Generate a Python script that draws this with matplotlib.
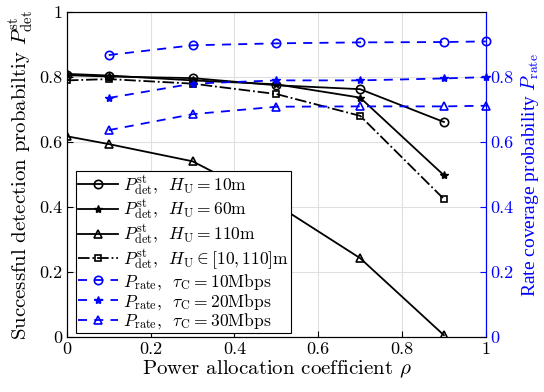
import matplotlib
matplotlib.use("Agg")
import matplotlib.pyplot as plt

plt.rcParams['font.family'] = ['cmr10', 'DejaVu Serif']
plt.rcParams['mathtext.fontset'] = 'cm'
plt.rcParams['axes.formatter.use_mathtext'] = True

rho_det = [0, 0.1, 0.3, 0.5, 0.7, 0.9]
det_h10 = [0.806, 0.802, 0.797, 0.775, 0.763, 0.662]
det_h60 = [0.810, 0.805, 0.790, 0.778, 0.737, 0.498]
det_h110 = [0.618, 0.594, 0.541, 0.408, 0.243, 0.006]
det_range = [0.790, 0.794, 0.780, 0.748, 0.681, 0.425]

rho_rate = [0.1, 0.3, 0.5, 0.7, 0.9, 1.0]
rate_10 = [0.868, 0.898, 0.904, 0.907, 0.908, 0.910]
rate_20 = [0.736, 0.780, 0.790, 0.790, 0.796, 0.800]
rate_30 = [0.637, 0.686, 0.709, 0.710, 0.710, 0.712]

fig = plt.figure(figsize=(5.44, 3.92), dpi=100)
ax = fig.add_axes([0.123, 0.140, 0.770, 0.829])
ax2 = ax.twinx()

lw = 1.3
ms = 6
h1, = ax.plot(rho_det, det_h10, '-', color='k', lw=lw, marker='o', ms=ms, mfc='none', mew=1.2,
              label=r'$P_{\rm det}^{\rm st}$,  $H_{\rm U}=10$m')
h2, = ax.plot(rho_det, det_h60, '-', color='k', lw=lw, marker='*', ms=ms, mew=1.0,
              label=r'$P_{\rm det}^{\rm st}$,  $H_{\rm U}=60$m')
h3, = ax.plot(rho_det, det_h110, '-', color='k', lw=lw, marker='^', ms=ms, mfc='none', mew=1.2,
              label=r'$P_{\rm det}^{\rm st}$,  $H_{\rm U}=110$m')
h4, = ax.plot(rho_det, det_range, '-.', color='k', lw=lw, marker='s', ms=5, mfc='none', mew=1.2,
              label=r'$P_{\rm det}^{\rm st}$,  $H_{\rm U}\in[10,110]$m')

blue = (0, 0, 1)
dash = (0, (5, 4))
h5, = ax2.plot(rho_rate, rate_10, linestyle=dash, color=blue, lw=lw, marker='o', ms=ms, mfc='none', mew=1.2,
               label=r'$P_{\rm rate}$,  $\tau_{\rm C}=10$Mbps', clip_on=False)
h6, = ax2.plot(rho_rate, rate_20, linestyle=dash, color=blue, lw=lw, marker='*', ms=ms, mew=1.0,
               label=r'$P_{\rm rate}$,  $\tau_{\rm C}=20$Mbps', clip_on=False)
h7, = ax2.plot(rho_rate, rate_30, linestyle=dash, color=blue, lw=lw, marker='^', ms=ms, mfc='none', mew=1.2,
               label=r'$P_{\rm rate}$,  $\tau_{\rm C}=30$Mbps', clip_on=False)

ax.set_xlim(0, 1)
ax.set_ylim(0, 1)
ax2.set_ylim(0, 1)
ax.set_xticks([0, 0.2, 0.4, 0.6, 0.8, 1])
ax.set_xticklabels(['0', '0.2', '0.4', '0.6', '0.8', '1'])
ax.set_yticks([0, 0.2, 0.4, 0.6, 0.8, 1])
ax.set_yticklabels(['0', '0.2', '0.4', '0.6', '0.8', '1'])
ax2.set_yticks([0, 0.2, 0.4, 0.6, 0.8])
ax2.set_yticklabels(['0', '0.2', '0.4', '0.6', '0.8'])

ax.grid(True, color='#e0e0e0', lw=0.8)
ax.set_axisbelow(True)
ax.tick_params(direction='in', labelsize=13, length=4, top=False)
ax2.tick_params(direction='in', labelsize=13, length=4, colors=blue)
ax2.spines['right'].set_color(blue)
for s in ['left', 'bottom', 'top']:
    ax.spines[s].set_linewidth(0.8)
ax2.spines['right'].set_linewidth(0.8)

ax.set_xlabel(r'Power allocation coefficient $\rho$', fontsize=15, labelpad=1)
ax.set_ylabel(r'Successful detection probabiltiy $P_{\rm det}^{\rm st}$', fontsize=15, labelpad=2)
ax2.set_ylabel(r'Rate coverage probability $P_{\rm rate}$', fontsize=14, color=blue, labelpad=4,
               family=['Liberation Serif', 'DejaVu Serif'])

leg = ax2.legend(handles=[h1, h2, h3, h4, h5, h6, h7], loc='lower left',
                 bbox_to_anchor=(0.022, 0.012), fontsize=12.6, frameon=True, fancybox=False,
                 edgecolor='k', framealpha=1, borderpad=0.1, labelspacing=0.0,
                 handlelength=2.3, handletextpad=0.3, borderaxespad=0)
leg.get_frame().set_linewidth(0.8)

fig.savefig('out.png', dpi=100)
